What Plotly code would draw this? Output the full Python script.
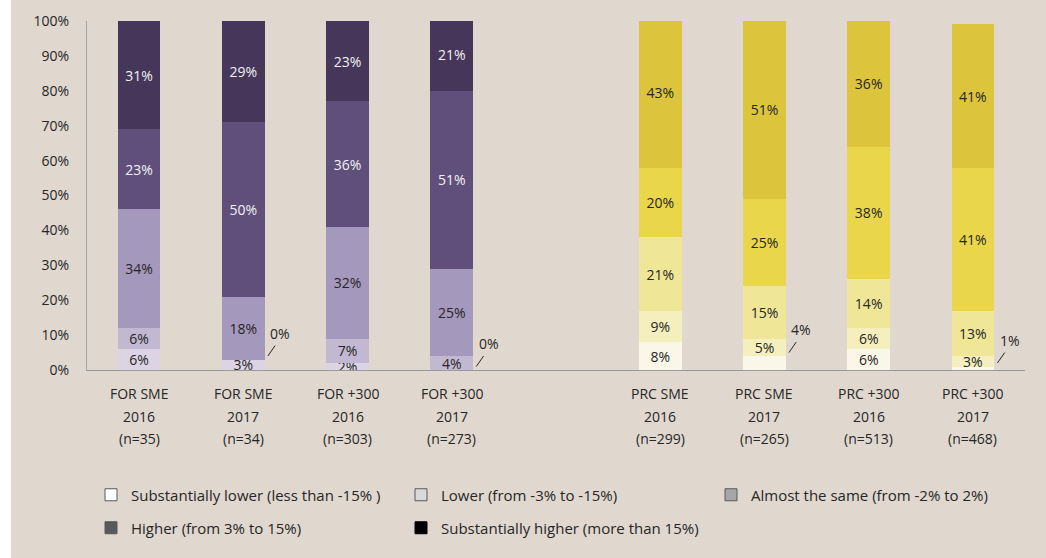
import plotly.graph_objects as go

# ---------------- data ----------------
series_names = [
    "Substantially lower (less than -15% )",
    "Lower (from -3% to -15%)",
    "Almost the same (from -2% to 2%)",
    "Higher (from 3% to 15%)",
    "Substantially higher (more than 15%)",
]

for_groups = ["FOR SME", "FOR SME", "FOR +300", "FOR +300"]
for_years = ["2016", "2017", "2016", "2017"]
for_n = ["(n=35)", "(n=34)", "(n=303)", "(n=273)"]

prc_groups = ["PRC SME", "PRC SME", "PRC +300", "PRC +300"]
prc_years = ["2016", "2017", "2016", "2017"]
prc_n = ["(n=299)", "(n=265)", "(n=513)", "(n=468)"]

for_subst_lower = [6, 3, 2, 0]
for_lower = [6, 0, 7, 4]
for_same = [34, 18, 32, 25]
for_higher = [23, 50, 36, 51]
for_subst_higher = [31, 29, 23, 21]

prc_subst_lower = [8, 4, 6, 1]
prc_lower = [9, 5, 6, 3]
prc_same = [21, 15, 14, 13]
prc_higher = [20, 25, 38, 41]
prc_subst_higher = [43, 51, 36, 41]

y_ticks = [0, 10, 20, 30, 40, 50, 60, 70, 80, 90, 100]
y_tick_labels = ["0%", "10%", "20%", "30%", "40%", "50%", "60%", "70%", "80%", "90%", "100%"]

# labels shown outside the bar with a leader line: (group, bar index, series index)
callouts = [("FOR", 1, 1), ("FOR", 3, 0), ("PRC", 1, 0), ("PRC", 3, 0)]

# ---------------- styles ----------------
for_colors = ["#dcd4e4", "#c3b8d2", "#a598bd", "#604f7b", "#45365a"]
prc_colors = ["#faf7e8", "#f4efbd", "#efe797", "#e9d64b", "#dcc43c"]
for_text_colors = ["#262626", "#262626", "#262626", "#f2f2f2", "#f2f2f2"]
prc_text_colors = ["#262626"] * 5
legend_colors = ["#ffffff", "#d9d9d9", "#a6a6a6", "#595959", "#000000"]
legend_borders = ["#595959", "#595959", "#595959", "#595959", "#000000"]

FONT = "Open Sans"
TXT = "#262626"
BG = "#e0d8ce"

W, H = 1046, 558
ML, MR, MT, MB = 87, 21, 21, 188
PW = W - ML - MR
PH = H - MT - MB

for_x = [0, 1, 2, 3]
prc_x = [5, 6, 7, 8]
BAR_W = 0.41

groups = {
    "FOR": dict(x=for_x, vals=[for_subst_lower, for_lower, for_same, for_higher, for_subst_higher],
                colors=for_colors, tcolors=for_text_colors,
                lab=(for_groups, for_years, for_n)),
    "PRC": dict(x=prc_x, vals=[prc_subst_lower, prc_lower, prc_same, prc_higher, prc_subst_higher],
                colors=prc_colors, tcolors=prc_text_colors,
                lab=(prc_groups, prc_years, prc_n)),
}

fig = go.Figure()

for gname, g in groups.items():
    for k, name in enumerate(series_names):
        vals = g["vals"][k]
        texts = []
        for i, v in enumerate(vals):
            if (gname, i, k) in callouts:
                texts.append("")
            else:
                texts.append(f"{v}%")
        fig.add_trace(go.Bar(
            x=g["x"], y=vals, width=BAR_W, name=name,
            marker=dict(color=g["colors"][k], line=dict(width=0)),
            text=texts, textposition="inside", insidetextanchor="middle",
            textangle=0, textfont=dict(family=FONT, size=14, color=g["tcolors"][k]),
            showlegend=False, hoverinfo="skip",
        ))

# legend-only entries (grey swatches, as in the original)
for k, name in enumerate(series_names):
    fig.add_trace(go.Bar(
        x=[None], y=[None], name=name,
        marker=dict(color=legend_colors[k], line=dict(color=legend_borders[k], width=1)),
        legend="legend" if k < 3 else "legend2",
        showlegend=True, hoverinfo="skip",
    ))

# callouts with leader lines
for gname, i, k in callouts:
    g = groups[gname]
    xc = g["x"][i]
    top = sum(g["vals"][j][i] for j in range(k + 1))
    y0 = top + 1
    y1 = y0 + 3
    fig.add_shape(type="line", xref="x", yref="y",
                  x0=xc + BAR_W / 2 + 0.03, y0=y0, x1=xc + BAR_W / 2 + 0.1, y1=y1,
                  line=dict(color="#262626", width=1))
    fig.add_annotation(x=xc + BAR_W / 2 + 0.15, y=y1 + 3.5, xref="x", yref="y",
                       text=f"{g['vals'][k][i]}%", showarrow=False,
                       font=dict(family=FONT, size=14, color=TXT))

# category labels (three lines)
for gname, g in groups.items():
    names, yrs, ns = g["lab"]
    for i, xc in enumerate(g["x"]):
        for txt, shift in zip([names[i], yrs[i], ns[i]], [-23, -46, -68]):
            fig.add_annotation(x=xc, y=0, xref="x", yref="paper", yanchor="middle",
                               yshift=shift, text=txt, showarrow=False,
                               font=dict(family=FONT, size=14, color=TXT))

# white strip at the left edge
fig.add_shape(type="rect", xref="paper", yref="paper",
              x0=-ML / PW - 0.01, x1=-(ML - 11) / PW, y0=-MB / PH - 0.05, y1=1 + MT / PH + 0.05,
              fillcolor="#ffffff", line=dict(width=0), layer="below")

legend_common = dict(orientation="h", x=4 / PW, xanchor="left", yanchor="middle",
                     entrywidth=265, entrywidthmode="pixels", bgcolor="rgba(0,0,0,0)",
                     font=dict(family=FONT, size=15, color=TXT), traceorder="normal")

fig.update_layout(
    width=W, height=H,
    margin=dict(l=ML, r=MR, t=MT, b=MB, autoexpand=False),
    paper_bgcolor=BG, plot_bgcolor=BG,
    barmode="stack",
    font=dict(family=FONT, size=14, color=TXT),
    uniformtext=dict(minsize=14, mode="show"),
    xaxis=dict(range=[-0.5, 8.5], showticklabels=False, showgrid=False, zeroline=False,
               showline=True, linecolor="#9a9a9a", linewidth=1, ticks="", automargin=False),
    yaxis=dict(range=[0, 100], tickvals=y_ticks, ticktext=y_tick_labels,
               showgrid=False, zeroline=False, showline=True, linecolor="#a6a6a6",
               linewidth=1, ticks="", ticklabelstandoff=14, automargin=False,
               tickfont=dict(family=FONT, size=14, color=TXT)),
    legend=dict(legend_common, y=-(495 - 370) / PH),
    legend2=dict(legend_common, y=-(528 - 370) / PH),
    showlegend=True,
)

fig.write_html("out.html", config={"displayModeBar": False},
               post_script="document.body.style.margin='0px';")
